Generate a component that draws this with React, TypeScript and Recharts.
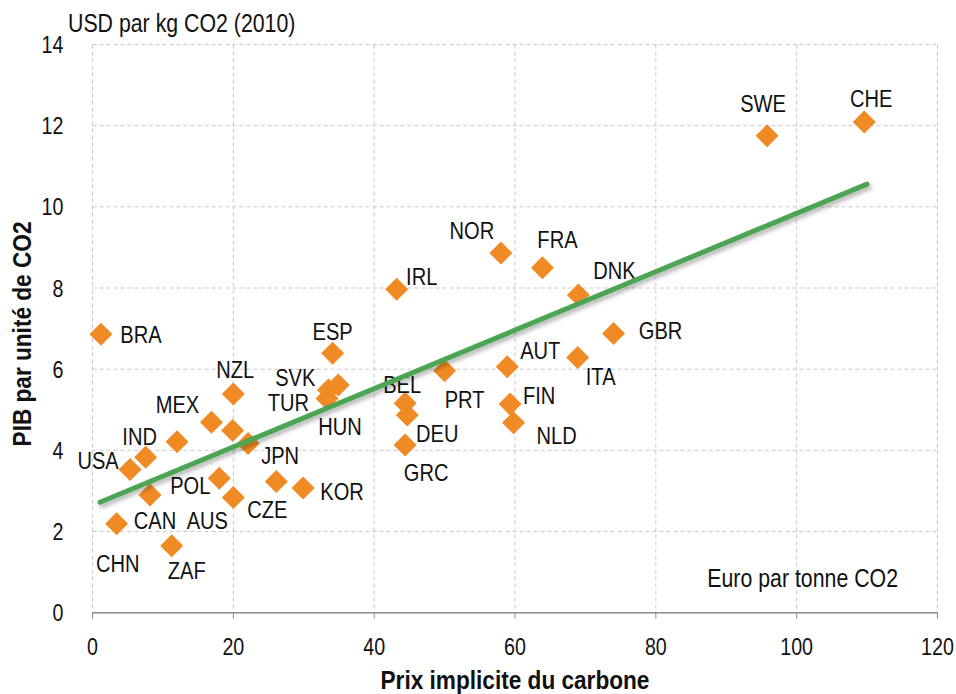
import { ScatterChart, Scatter, XAxis, YAxis, CartesianGrid, Label } from 'recharts';

// --- data ---
const countries = [
  'BRA', 'NZL', 'MEX', '', 'JPN', '', 'IND', 'USA', 'CAN', 'CHN', 'ZAF', 'POL', 'AUS', 'CZE', 'KOR',
  'ESP', 'SVK', 'TUR', 'HUN', 'IRL', 'BEL', 'DEU', 'GRC', 'PRT', 'NOR', 'FRA', 'DNK', 'AUT', 'FIN',
  'NLD', 'ITA', 'GBR', 'SWE', 'CHE',
];
const carbonPrice = [
  1.2, 20.0, 16.9, 19.9, 22.1, 12.0, 7.55, 5.33, 8.17, 3.43, 11.25, 18.0, 20.0, 26.1, 29.9,
  34.1, 34.9, 33.5, 33.3, 43.2, 44.4, 44.7, 44.4, 50.0, 58.0, 63.9, 69.0, 58.9, 59.3,
  59.8, 68.9, 74.0, 95.8, 109.6,
];
const gdpPerCo2 = [
  6.86, 5.39, 4.69, 4.49, 4.17, 4.21, 3.83, 3.53, 2.9, 2.19, 1.65, 3.31, 2.84, 3.23, 3.07,
  6.39, 5.61, 5.49, 5.28, 7.97, 5.16, 4.87, 4.13, 5.96, 8.86, 8.5, 7.83, 6.06, 5.14,
  4.68, 6.29, 6.88, 11.75, 12.09,
];
const trendPrice = [1.07, 110];
const trendGdp = [2.72, 10.56];
const xTicks = [0, 20, 40, 60, 80, 100, 120];
const yTicks = [0, 2, 4, 6, 8, 10, 12, 14];

// label placement around each marker (pixels, to text centre)
const labelOffsets: Record<string, [number, number]> = {
  BRA: [40, 0], NZL: [2, -25], MEX: [-34, -18], JPN: [32, 12], IND: [-6, -21], USA: [-32, -9],
  CAN: [5, 25], CHN: [1, 39], ZAF: [15, 24], POL: [-29, 7], AUS: [-26, 23], CZE: [-9, 28],
  KOR: [39, 3], ESP: [0, -22], SVK: [-43, -8], TUR: [-40, 12], HUN: [13, 28], IRL: [25, -13],
  BEL: [-3, -19], DEU: [30, 18], GRC: [21, 27], PRT: [20, 28], NOR: [-29, -23], FRA: [15, -29],
  DNK: [36, -25], AUT: [33, -17], FIN: [29, -9], NLD: [43, 12], ITA: [23, 19], GBR: [47, -3],
  SWE: [-4, -33], CHE: [7, -24],
};

const points = countries.map((name, i) => ({ name, x: carbonPrice[i], y: gdpPerCo2[i] }));
const trend = trendPrice.map((x, i) => ({ x, y: trendGdp[i] }));

const ORANGE = '#F08A24';
const GREEN = '#4BA552';
const FONT = '"Liberation Sans", Arial, sans-serif';
const INK = '#111';

// no narrow font installed, so squeeze Liberation Sans horizontally around its anchor
function NarrowText({ x, y, squeeze = 0.82, children, ...rest }: any) {
  return (
    <text x={x} y={y} transform={`matrix(${squeeze} 0 0 1 ${x * (1 - squeeze)} 0)`}
      fontFamily={FONT} fill={INK} {...rest}>
      {children}
    </text>
  );
}

function Diamond(props: any) {
  const { cx, cy } = props;
  const r = 11.5;
  return <polygon points={`${cx},${cy - r} ${cx + r},${cy} ${cx},${cy + r} ${cx - r},${cy}`} fill={ORANGE} />;
}

function CountryLabel(props: any) {
  const { cx, cy, payload } = props;
  const off = labelOffsets[payload.name];
  if (!payload.name || !off) return <g />;
  return (
    <NarrowText x={cx + off[0]} y={cy + off[1]} textAnchor="middle" dy="0.36em" fontSize={24.5}>
      {payload.name}
    </NarrowText>
  );
}

const XTick = ({ x, y, payload }: any) => (
  <NarrowText x={x} y={y} textAnchor="middle" dy="0.71em" fontSize={24}>{payload.value}</NarrowText>
);
const YTick = ({ x, y, payload }: any) => (
  <NarrowText x={x} y={y} textAnchor="end" dy="0.36em" fontSize={24}>{payload.value}</NarrowText>
);

export default function App() {
  return (
    <div style={{ position: 'absolute', left: 0, top: 0, width: 956, height: 694, background: '#fff' }}>
      <ScatterChart width={956} height={694} margin={{ top: 44.5, right: 18.5, bottom: 31.3, left: 32.5 }}>
        <defs>
          <filter id="lineShadow" x="-10%" y="-30%" width="125%" height="170%">
            <feDropShadow dx="2" dy="3" stdDeviation="2" floodColor="#000" floodOpacity="0.3" />
          </filter>
        </defs>
        <CartesianGrid stroke="#c8c8c8" strokeDasharray="4 3" />
        <XAxis type="number" dataKey="x" domain={[0, 120]} ticks={xTicks} interval={0} height={50}
          axisLine={{ stroke: '#8c8c8c', strokeWidth: 1.5 }} tickLine={{ stroke: '#8c8c8c' }}
          tickSize={6} tickMargin={19} tick={XTick}>
          <Label content={({ viewBox }: any) => (
            <NarrowText x={viewBox.x + viewBox.width / 2} y={689} textAnchor="middle"
              fontSize={26} squeeze={0.87} fontWeight="bold">
              Prix implicite du carbone
            </NarrowText>
          )} />
          <Label content={() => (
            <NarrowText x={898} y={587} textAnchor="end" fontSize={26}>
              Euro par tonne CO2
            </NarrowText>
          )} />
        </XAxis>
        <YAxis type="number" dataKey="y" domain={[0, 14]} ticks={yTicks} interval={0} width={60}
          axisLine={false} tickLine={false} tickSize={0} tickMargin={29} tick={YTick}>
          <Label content={() => (
            <g transform="translate(21.5 334) rotate(-90) scale(0.87 1)">
              <text x={0} y={0} dy="0.36em" textAnchor="middle" fontFamily={FONT} fontSize={26}
                fontWeight="bold" fill={INK}>
                PIB par unité de CO2
              </text>
            </g>
          )} />
          <Label content={() => (
            <NarrowText x={68} y={32.5} fontSize={26}>
              USD par kg CO2 (2010)
            </NarrowText>
          )} />
        </YAxis>
        <Scatter data={points} shape={Diamond} isAnimationActive={false} />
        <Scatter data={points} shape={CountryLabel} isAnimationActive={false} />
        <Scatter data={trend} shape={() => <g />} isAnimationActive={false} lineType="joint"
          line={{ stroke: GREEN, strokeWidth: 5, strokeLinecap: 'round', filter: 'url(#lineShadow)' }} />
      </ScatterChart>
    </div>
  );
}
